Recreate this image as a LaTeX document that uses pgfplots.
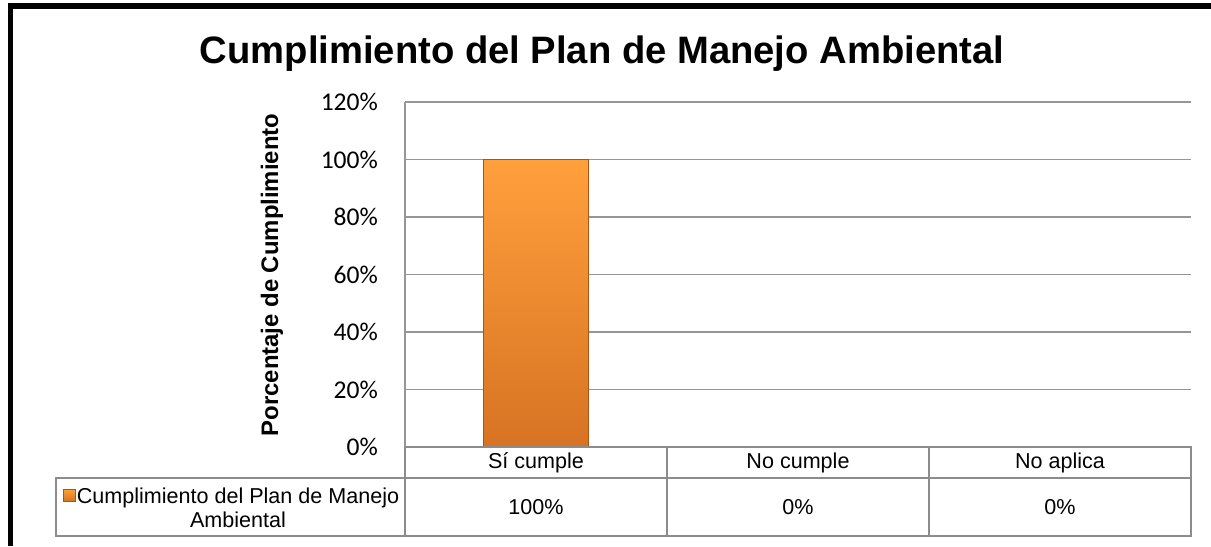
\documentclass[border=0pt]{standalone}
\usepackage{fontspec}
\setmainfont{Liberation Sans}
\newfontfamily\carlito{Carlito}
\usepackage{pgfplots}
\pgfplotsset{compat=1.18}
\definecolor{gridgray}{RGB}{150,150,150}
\definecolor{tablegray}{RGB}{140,140,140}
\definecolor{bartop}{RGB}{255,160,60}
\definecolor{barbot}{RGB}{215,115,35}
\definecolor{baredge}{RGB}{170,85,20}

\begin{document}
\begin{tikzpicture}
% frame and title, in pixel units of the reference
\begin{scope}[x=0.015cm,y=-0.015cm]
  \path[use as bounding box] (0,0) rectangle (1211,546);
  \draw[line width=2.2pt] (10.5,546) -- (10.5,6) -- (1211,6);
  \node[anchor=base, font=\bfseries\fontsize{16.3}{19}\selectfont] at (602,63)
    {Cumplimiento del Plan de Manejo Ambiental};
  \node[rotate=90, font=\bfseries\fontsize{10.2}{12}\selectfont] at (272,275)
    {Porcentaje de Cumplimiento};
\end{scope}

\begin{axis}[
  at={(6.075cm,-6.705cm)}, anchor=south west,
  width=11.79cm, height=5.175cm, scale only axis,
  xmin=-0.5, xmax=2.5, ymin=0, ymax=120,
  xtick=\empty,
  ytick={0,20,...,120},
  yticklabel={\pgfmathparse{int(\tick)}\pgfmathresult\%},
  yticklabel style={font=\carlito\fontsize{10.9}{12}\selectfont, inner sep=0pt, xshift=-0.4cm},
  major tick length=0pt,
  ymajorgrids, grid style={gridgray, line width=0.7pt},
  axis x line*=bottom, axis y line*=left,
  axis line style={gridgray, line width=0.7pt, -},
]
  \addplot[ybar, bar width=0.4, draw=baredge, line width=0.4pt,
    top color=bartop, bottom color=barbot,
    y filter/.expression={y==0 ? nan : y}, unbounded coords=discard]
    coordinates {(0,100) (1,0) (2,0)};
\end{axis}

% data table under the plot
\begin{scope}[x=0.015cm,y=-0.015cm]
  \draw[tablegray, line width=0.7pt] (405,447) -- (1191,447) -- (1191,536) -- (56,536) -- (56,478) -- (1191,478);
  \draw[tablegray, line width=0.7pt] (405,447) -- (405,536) (667,447) -- (667,536) (929,447) -- (929,536);
  \begin{scope}[every node/.style={font=\fontsize{9.2}{10.2}\selectfont}]
    \node at (536,463) {Sí cumple};
    \node at (798,463) {No cumple};
    \node at (1060,463) {No aplica};
    \node at (536,507) {100\%};
    \node at (798,507) {0\%};
    \node at (1060,507) {0\%};
    \node[align=center] at (238,508) {Cumplimiento del Plan de Manejo\\Ambiental};
  \end{scope}
  \shade[top color=bartop, bottom color=barbot, draw=baredge, line width=0.3pt] (63,489) rectangle (75,501);
\end{scope}
\end{tikzpicture}
\end{document}
